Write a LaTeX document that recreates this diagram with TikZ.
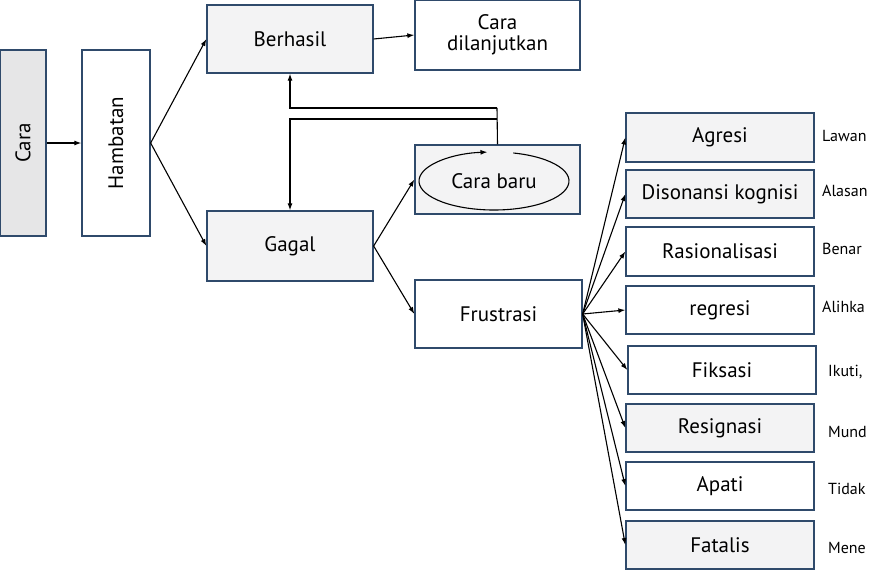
\documentclass[tikz,border=0pt]{standalone}
\usepackage{fontspec}
\setmainfont{PT Sans}
\usetikzlibrary{arrows.meta, positioning, shapes.geometric}

\definecolor{edge}{HTML}{2F4A6B}
\definecolor{light}{HTML}{F3F3F4}
\definecolor{dark}{HTML}{E6E6E7}

\begin{document}
\begin{tikzpicture}[
  x=1pt, y=-1pt,
  font=\fontsize{21}{23}\selectfont,
  box/.style={draw=edge, line width=1.3pt, fill=white, align=center, inner sep=0pt},
  shade/.style={box, fill=light},
  side/.style={anchor=west, font=\fontsize{16}{18}\selectfont, inner sep=0pt},
  arr/.style={-{Latex[length=7pt,width=5pt]}, line width=1.1pt}
]
\useasboundingbox (0,0) rectangle (870,570);
% left column
\node[box, fill=dark, minimum width=46, minimum height=186] (cara) at (23,143) {};
\node[rotate=90] at (cara) {Cara};
\node[box, minimum width=68, minimum height=186] (hamb) at (116,143) {};
\node[rotate=90] at (hamb) {Hambatan};
% middle
\node[shade, minimum width=166, minimum height=68] (berh) at (290,39) {Berhasil};
\node[box, minimum width=165, minimum height=70] (lanjut) at (497.5,35) {Cara\\[-2pt]dilanjutkan};
\node[shade, minimum width=166, minimum height=70] (gagal) at (290,246) {Gagal};
\node[shade, minimum width=165, minimum height=69] (barubox) at (497.5,179.5) {};
\node[ellipse, minimum width=150, minimum height=58, inner sep=0pt] (baru) at (494,181) {Cara baru};
\node[box, minimum width=167, minimum height=68] (frus) at (498.5,314) {Frustrasi};
% reactions
\node[shade, minimum width=188, minimum height=49] (agr) at (720,137.5) {Agresi};
\node[shade, minimum width=188, minimum height=48] (dis) at (720,194) {Disonansi kognisi};
\node[box, minimum width=188, minimum height=49] (ras) at (720,251.5) {Rasionalisasi};
\node[box, minimum width=188, minimum height=48] (reg) at (720,310) {regresi};
\node[box, minimum width=188, minimum height=48] (fik) at (722,370) {Fiksasi};
\node[shade, minimum width=188, minimum height=48] (res) at (720,428) {Resignasi};
\node[box, minimum width=188, minimum height=48] (apa) at (720,486) {Apati};
\node[shade, minimum width=188, minimum height=48] (fat) at (720,545) {Fatalis};
% side notes
\node[side] (n1) at (822,136) {Lawan};
\node[side] (n2) at (822,191) {Alasan};
\node[side] (n3) at (822,249) {Benar};
\node[side] (n4) at (822,307) {Alihka};
\node[side] (n5) at (828,372) {Ikuti,};
\node[side] (n6) at (828,432) {Mund};
\node[side] (n7) at (828,489) {Tidak};
\node[side] (n8) at (828,548) {Mene};
% connectors
\draw[arr] (cara.east) -- (hamb.west);
\draw[arr] (hamb.east) -- (berh.west);
\draw[arr] (hamb.east) -- (gagal.west);
\draw[arr] (berh.east) -- (lanjut.west);
\draw[arr] (gagal.east) -- (barubox.west);
\draw[arr] (gagal.east) -- (frus.west);
\foreach \n in {agr,dis,ras,reg,fik,res,apa,fat}
  \draw[arr] (frus.east) -- (\n.west);
% feedback loop
\coordinate (fb1) at (497,108);
\coordinate (fb2) at (497,119);
\draw[line width=1.1pt] (barubox.north) -- (fb1);
\draw[arr] (fb1) -| (berh.south);
\draw[arr] (fb2) -| (gagal.north);
\draw[arr] (baru.center) ++(-75:75 and 29) arc[start angle=-75, end angle=265, x radius=75, y radius=29];
\end{tikzpicture}
\end{document}
